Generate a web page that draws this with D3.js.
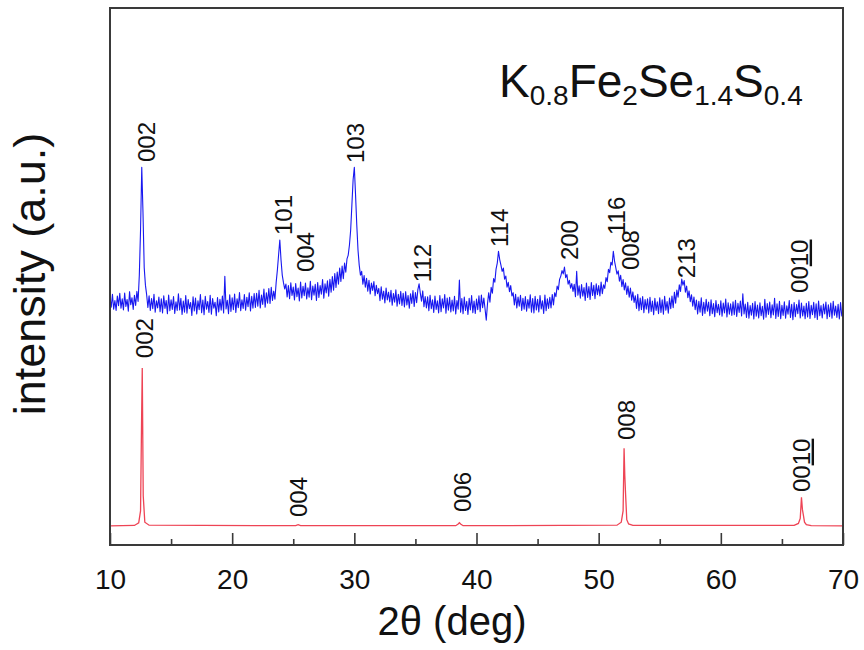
<!DOCTYPE html>
<html>
<head>
<meta charset="utf-8">
<script src="https://cdn.jsdelivr.net/npm/d3@7"></script>
<style>
  body { margin: 0; background: #fff; }
  text { font-family: "Liberation Sans", Arial, Helvetica, sans-serif; fill: #111; }
</style>
</head>
<body>
<script>
var w = 864;
var h = 650;
var padLeft = 110, padRight = 843, padTop = 8, padBottom = 545;

// measured pattern (blue), sampled every 0.1 deg from 10 to 70 (one row per degree)
var measStart = 10;
var measStep = 0.1;
var measured = [
    91.1, 87.2, 92.4, 86.4, 89.9, 85.9, 91.7, 87.8, 92.8, 86.8,
    90.6, 86.1, 92.9, 87.5, 90.3, 85.6, 93.4, 88.2, 91.0, 86.3,
    92.0, 87.9, 93.5, 89.5, 100, 118, 143, 125, 103, 96.0,
    92.2, 87.1, 91.8, 85.9, 90.7, 86.6, 92.4, 85.2, 89.8, 86.9,
    91.3, 85.4, 90.6, 84.9, 91.8, 86.7, 89.9, 84.6, 92.1, 85.8,
    90.2, 86.3, 91.5, 84.7, 89.4, 85.9, 92.6, 86.1, 90.8, 84.3,
    89.7, 85.2, 91.9, 84.8, 90.3, 86.6, 89.1, 83.9, 91.4, 85.7,
    90.9, 84.5, 89.8, 86.2, 92.3, 85.0, 90.1, 84.2, 91.6, 86.4,
    89.5, 85.1, 92.0, 84.4, 90.7, 86.8, 89.2, 83.8, 91.1, 85.3,
    90.4, 86.0, 91.7, 84.9, 99.5, 86.5, 90.0, 84.6, 92.2, 85.5,
    91.0, 86.2, 92.5, 85.1, 90.6, 87.0, 93.1, 85.8, 90.2, 86.7,
    92.3, 86.0, 91.2, 87.4, 93.0, 85.7, 91.6, 86.8, 92.7, 87.1,
    92.8, 87.6, 93.9, 86.9, 92.1, 88.3, 94.4, 87.2, 93.0, 88.8,
    94.6, 88.7, 95.1, 89.9, 93.6, 90.4, 97.0, 102, 108, 114,
    106, 100, 97.0, 94.5, 96.4, 91.3, 95.8, 90.6, 96.9, 91.9,
    95.2, 90.1, 96.6, 91.4, 94.8, 89.7, 97.2, 90.9, 95.5, 91.8,
    96.8, 90.5, 94.9, 91.2, 97.5, 90.2, 95.6, 92.0, 96.3, 89.9,
    97.0, 91.1, 95.8, 92.4, 98.2, 90.8, 96.5, 92.9, 97.7, 91.6,
    98.3, 93.2, 99.4, 94.0, 100.6, 95.1, 101.2, 96.4, 102.8, 97.5,
    103.6, 98.6, 104.8, 101.2, 106.5, 108, 112, 118, 128, 138,
    143, 132, 120, 110, 104, 100, 101.5, 96.4, 99.8, 95.2,
    98.7, 93.6, 97.9, 92.5, 96.8, 93.9, 97.4, 91.8, 95.9, 92.6,
    94.7, 89.8, 95.3, 90.4, 93.6, 88.9, 94.8, 90.1, 93.2, 89.3,
    93.9, 88.0, 92.7, 89.2, 94.1, 87.6, 92.4, 88.5, 93.5, 87.9,
    92.8, 87.3, 93.4, 88.1, 91.9, 86.8, 92.6, 88.7, 93.8, 87.5,
    93.1, 89.0, 94.2, 96.5, 92.8, 89.6, 93.7, 87.4, 91.5, 86.9,
    91.4, 85.8, 92.0, 86.6, 90.2, 85.1, 91.7, 86.3, 89.8, 84.9,
    91.9, 85.4, 90.6, 86.9, 92.3, 84.8, 90.9, 86.0, 91.2, 85.3,
    90.1, 85.7, 91.6, 84.5, 89.9, 86.4, 98.0, 85.2, 90.7, 84.6,
    91.3, 85.9, 89.6, 84.3, 90.8, 86.1, 91.9, 85.0, 89.7, 84.7,
    90.5, 86.2, 91.8, 85.4, 92.1, 87.0, 90.9, 86.5, 82.0, 88.6,
    93.0, 89.2, 95.1, 92.8, 98.6, 97.2, 102.4, 104.8, 109.5, 106.2,
    104, 101.5, 102.8, 98.4, 99.6, 95.2, 97.1, 93.4, 95.8, 91.7,
    93.0, 88.1, 92.4, 86.9, 91.3, 87.6, 92.0, 85.9, 90.8, 86.4,
    91.5, 85.6, 90.3, 86.8, 92.2, 85.2, 90.7, 84.9, 91.6, 86.1,
    90.4, 85.3, 91.9, 86.5, 89.8, 84.7, 92.1, 85.8, 90.6, 86.7,
    91.2, 86.9, 92.3, 88.1, 93.0, 91.4, 95.6, 94.2, 98.3, 99.6,
    101.8, 100.5, 103.2, 99.0, 100.2, 96.4, 97.9, 94.8, 96.6, 93.5,
    96.3, 91.4, 101.5, 92.0, 95.7, 90.8, 96.2, 91.6, 95.0, 89.9,
    96.8, 91.1, 95.4, 90.3, 97.0, 91.9, 95.9, 90.6, 96.5, 92.2,
    95.8, 91.7, 97.2, 92.6, 96.1, 94.7, 99.0, 97.4, 102.3, 101.0,
    105.1, 104.0, 109.5, 105.6, 103.0, 100.4, 101.7, 97.6, 99.9, 95.4,
    98.2, 94.1, 96.9, 92.3, 95.6, 91.2, 94.8, 90.0, 93.3, 89.1,
    91.8, 86.7, 92.4, 85.8, 90.9, 86.2, 91.5, 85.0, 90.3, 86.4,
    90.6, 84.9, 91.2, 85.5, 89.7, 84.2, 90.8, 85.9, 89.4, 84.6,
    91.0, 85.1, 90.2, 84.4, 91.6, 86.0, 89.5, 84.8, 90.9, 86.6,
    91.7, 87.0, 93.2, 88.8, 94.0, 91.2, 96.1, 93.5, 98.4, 96.0,
    97.8, 93.2, 95.6, 91.0, 93.7, 89.4, 92.2, 87.6, 91.3, 86.2,
    90.1, 84.5, 89.6, 85.2, 91.0, 83.9, 89.2, 84.7, 90.4, 85.6,
    89.3, 83.8, 90.2, 84.6, 88.7, 83.4, 89.9, 85.0, 88.4, 84.1,
    89.8, 83.6, 88.9, 84.9, 90.5, 83.3, 89.0, 84.4, 88.6, 83.9,
    89.4, 84.2, 90.0, 83.5, 88.8, 85.1, 89.7, 83.7, 92.6, 84.5,
    88.5, 83.1, 89.2, 82.8, 87.9, 84.0, 88.8, 82.5, 89.5, 83.6,
    88.1, 82.9, 89.0, 83.8, 87.6, 82.4, 90.4, 83.2, 88.7, 84.3,
    89.3, 83.0, 88.2, 84.1, 90.8, 82.7, 88.6, 83.5, 89.6, 82.6,
    88.0, 83.9, 89.4, 82.8, 87.8, 84.4, 89.9, 83.1, 88.4, 82.2,
    89.1, 83.4, 88.3, 84.6, 90.1, 82.9, 88.9, 83.7, 87.7, 82.6,
    88.8, 83.3, 89.5, 82.7, 88.0, 84.2, 89.2, 83.0, 88.6, 82.3,
    89.7, 83.8, 87.9, 82.9, 88.5, 84.5, 89.3, 82.6, 88.2, 83.4,
    88.9, 82.8, 89.6, 84.0, 87.7, 83.1, 88.4, 82.5, 89.1, 83.7,
    86.0
];

// calculated pattern (red)
var calcTheta = [10, 12.0, 12.35, 12.5, 12.58, 12.64, 12.72, 12.85, 13.2,
    25.2, 25.4, 25.6, 38.3, 38.5, 38.6, 38.7, 38.9,
    51.5, 51.85, 52.0, 52.08, 52.14, 52.2, 52.3, 52.45, 52.8,
    66.0, 66.35, 66.5, 66.6, 66.68, 66.75, 66.85, 67.0, 67.4, 70];
var calcInt = [0, 0.2, 1.2, 6, 40, 63, 12, 1.5, 0.3,
    0.1, 0.5, 0.1, 0.1, 0.8, 1.3, 0.8, 0.1,
    0.3, 1.5, 6, 31, 20, 13, 2.5, 0.8, 0.2,
    0.2, 1, 3, 11.4, 6.5, 4.5, 1.5, 0.5, 0.1, 0];

// peak labels: [text, underlined part, theta, intensity at label bottom]
var measLabels = [
    ["002", "", 12.95, 145.1],
    ["101", "", 24.16, 116.0],
    ["004", "", 25.96, 101.2],
    ["103", "", 30.05, 144.7],
    ["112", "", 35.54, 97.2],
    ["114", "", 41.84, 111.2],
    ["200", "", 47.57, 106.0],
    ["116", "", 51.42, 116.0],
    ["008", "", 52.56, 102.0],
    ["213", "", 57.15, 98.8],
    ["00", "10", 66.4, 92.9]
];
var calcLabels = [
    ["002", "", 12.78, 66.9],
    ["004", "", 25.39, 3.55],
    ["006", "", 38.81, 5.54],
    ["008", "", 52.24, 34.25],
    ["00", "10", 66.56, 13.5]
];

var xTicks = [10, 20, 30, 40, 50, 60, 70];
var xMinor = [15, 25, 35, 45, 55, 65];

var xScale = d3.scaleLinear().domain([10, 70]).range([padLeft, padRight]);
var yScale = d3.scaleLinear().domain([-7.6, 206.5]).range([padBottom, padTop]);

var svg = d3.select("body")
    .append("svg")
    .attr("width", w)
    .attr("height", h);

// curves
var measLine = d3.line()
    .x(function(d, i) { return xScale(measStart + i * measStep); })
    .y(function(d) { return yScale(d); });

svg.append("path")
    .datum(measured)
    .attr("d", measLine)
    .attr("fill", "none")
    .attr("stroke", "#1818f0")
    .attr("stroke-width", 1.1)
    .attr("stroke-linejoin", "round");

var calcLine = d3.line()
    .x(function(d, i) { return xScale(calcTheta[i]); })
    .y(function(d) { return yScale(d); });

svg.append("path")
    .datum(calcInt)
    .attr("d", calcLine)
    .attr("fill", "none")
    .attr("stroke", "#ee4455")
    .attr("stroke-width", 1.3);

// frame
svg.append("rect")
    .attr("x", padLeft)
    .attr("y", padTop)
    .attr("width", padRight - padLeft)
    .attr("height", padBottom - padTop)
    .attr("fill", "none")
    .attr("stroke", "#3a3a3a")
    .attr("stroke-width", 2);

// bottom axis, ticks pointing inward
var xAxis = d3.axisBottom(xScale)
    .tickValues(xTicks)
    .tickSize(-12)
    .tickPadding(24)
    .tickFormat(d3.format("d"));

var gx = svg.append("g")
    .attr("transform", "translate(0," + padBottom + ")")
    .call(xAxis);
gx.select(".domain").remove();
gx.selectAll(".tick line").attr("stroke", "#3a3a3a").attr("stroke-width", 1.6);
gx.selectAll(".tick text")
    .attr("font-size", 28)
    .attr("fill", "#111")
    .attr("font-family", "Liberation Sans, Arial, sans-serif");

var xAxisMinor = d3.axisBottom(xScale)
    .tickValues(xMinor)
    .tickSize(-6)
    .tickFormat("");
var gm = svg.append("g")
    .attr("transform", "translate(0," + padBottom + ")")
    .call(xAxisMinor);
gm.select(".domain").remove();
gm.selectAll(".tick line").attr("stroke", "#3a3a3a").attr("stroke-width", 1.6);

// peak labels
var labelSize = 24;
function addLabels(list) {
    list.forEach(function(d) {
        var t = svg.append("text")
            .attr("font-size", labelSize)
            .attr("transform", "translate(" + (xScale(d[2]) + 0.36 * labelSize) + "," + yScale(d[3]) + ") rotate(-90)");
        t.append("tspan").text(d[0]);
        if (d[1]) {
            t.append("tspan").style("text-decoration", "underline").text(d[1]);
        }
    });
}
addLabels(measLabels);
addLabels(calcLabels);

// axis titles
svg.append("text")
    .attr("text-anchor", "middle")
    .attr("x", 452)
    .attr("y", 635)
    .attr("font-size", 40)
    .text("2\u03b8 (deg)");

svg.append("text")
    .attr("text-anchor", "middle")
    .attr("transform", "translate(45,274) rotate(-90)")
    .attr("font-size", 45)
    .text("intensity (a.u.)");

// formula
var f = svg.append("text")
    .attr("x", 499)
    .attr("y", 97)
    .attr("font-size", 46);
var parts = [["K", false], ["0.8", true], ["Fe", false], ["2", true], ["Se", false], ["1.4", true], ["S", false], ["0.4", true]];
parts.forEach(function(p) {
    f.append("tspan")
        .attr("font-size", p[1] ? 28 : 46)
        .attr("dy", p[1] ? 8 : -8)
        .text(p[0]);
});
f.select("tspan").attr("dy", 0);
</script>
</body>
</html>
